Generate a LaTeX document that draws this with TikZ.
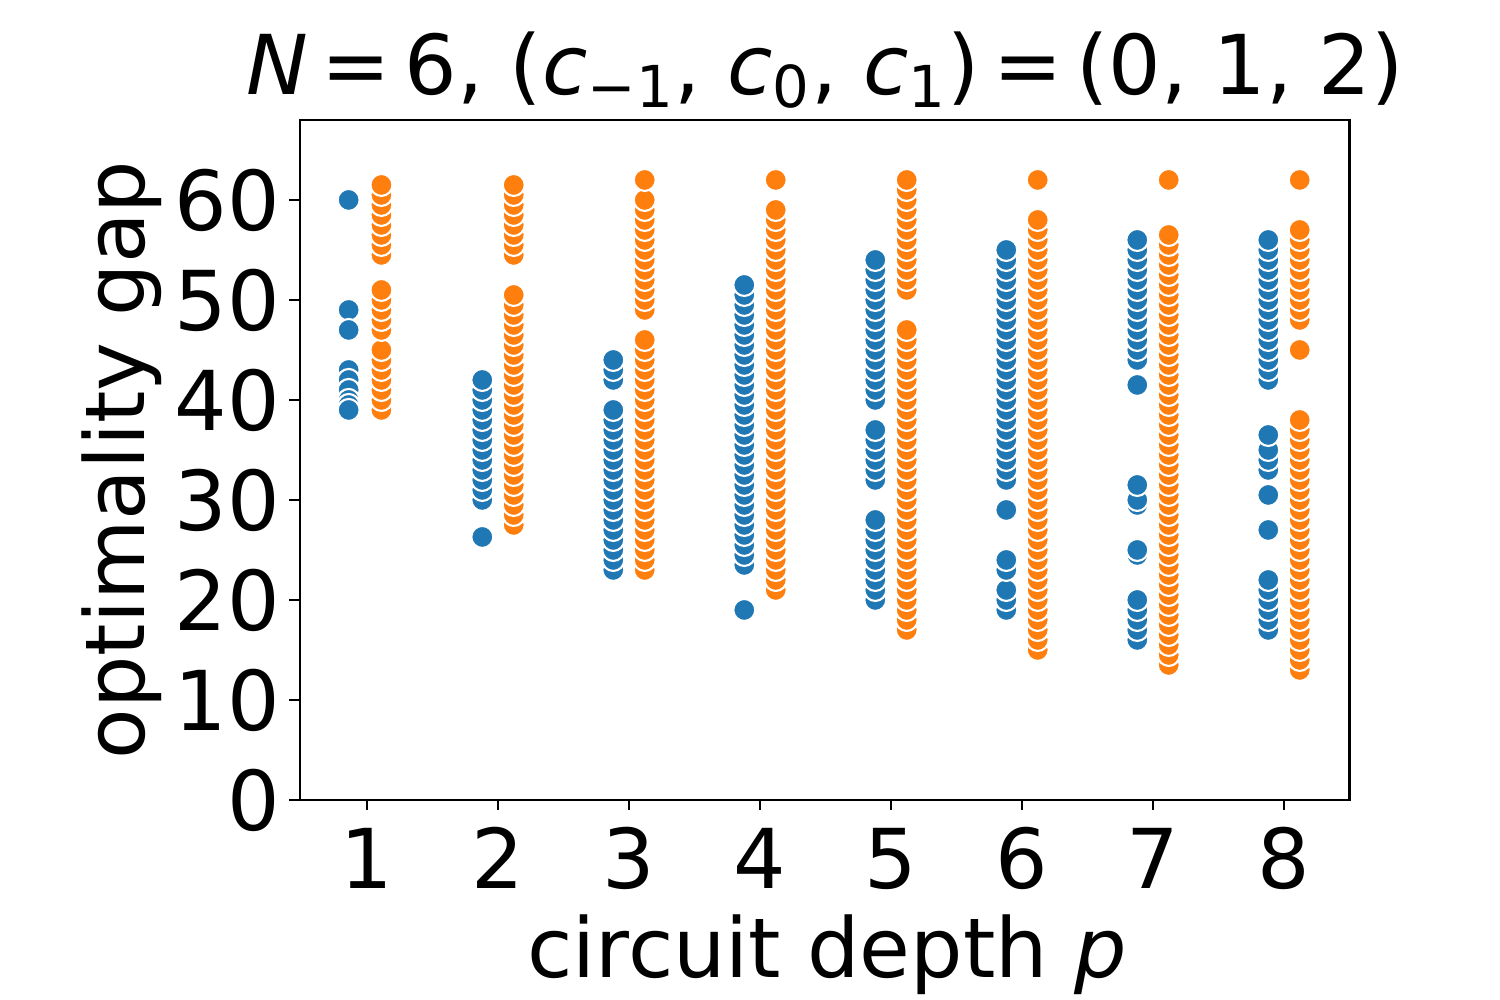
\documentclass[tikz,border=0pt]{standalone}
\usepackage{fontspec}
\setmainfont{DejaVu Sans}
\definecolor{tabblue}{HTML}{1F77B4}
\definecolor{taborange}{HTML}{FF7F0E}
\newcommand{\vi}[1]{\textit{#1}}
\tikzset{
  dotb/.style={fill=tabblue, draw=white, line width=0.6pt},
  doto/.style={fill=taborange, draw=white, line width=0.6pt},
  ticklab/.style={font=\fontsize{23.5}{28}\selectfont}
}
\begin{document}
\begin{tikzpicture}
\useasboundingbox (0,0) rectangle (15,10);
% --- title and axis labels ---
\node[ticklab] (title) at (8.25,9.3) {\vi{N}\,=\,6, (\vi{c}\textsubscript{−1}, \vi{c}\textsubscript{0}, \vi{c}\textsubscript{1})\,=\,(0, 1, 2)};
\node[ticklab, rotate=90] (ylab) at (1.22,5.4) {optimality gap};
\node[ticklab] (xlab) at (8.27,0.45) {circuit depth \vi{p}};
% --- data ---
\begin{scope}[shift={(2.36,2)}, x=1.31cm, y=0.1cm]
  \draw[line width=0.6pt] (0.4862,0) rectangle (8.5,68);
  \foreach \t in {0,10,...,60} {
    \draw[line width=0.6pt] (0.4862,\t) -- ++(-0.08,0);
    \node[ticklab, anchor=east] (yt\t) at (0.43,\t) {\t};
  }
  \foreach \p in {1,...,8} {
    \draw[line width=0.6pt] (\p,0) -- ++(0,-1);
    \node[ticklab, anchor=base] (xt\p) at (\p,-8.9) {\p};
  }
  % blue
  \foreach \y in {60,49,47,43,42,41,40,39.5,39} \fill[dotb] (0.86,\y) circle (0.11cm);
  \foreach \y in {26.3,30,31,...,42} \fill[dotb] (1.88,\y) circle (0.11cm);
  \foreach \y in {23,24,...,39,42,43,44} \fill[dotb] (2.88,\y) circle (0.11cm);
  \foreach \y in {19,23.5,24.5,...,51.5} \fill[dotb] (3.88,\y) circle (0.11cm);
  \foreach \y in {20,21,...,28,32,33,...,37,40,41,...,54} \fill[dotb] (4.88,\y) circle (0.11cm);
  \foreach \y in {19,20,21,23,24,29,32,33,...,55.5} \fill[dotb] (5.88,\y) circle (0.11cm);
  \foreach \y in {16,17,...,20,24.5,25,29.5,30,31.5,41.5,44,45,...,56} \fill[dotb] (6.88,\y) circle (0.11cm);
  \foreach \y in {17,18,...,22,27,30.5,33,34,35,36.5,42,43,...,56} \fill[dotb] (7.88,\y) circle (0.11cm);
  % orange
  \foreach \y in {39,40,...,45,47,48,...,51,54.5,55.5,...,62} \fill[doto] (1.11,\y) circle (0.11cm);
  \foreach \y in {27.5,28.5,...,50.5,54.5,55.5,...,62} \fill[doto] (2.12,\y) circle (0.11cm);
  \foreach \y in {23,24,...,46,49,50,...,60,62} \fill[doto] (3.12,\y) circle (0.11cm);
  \foreach \y in {21,22,...,59,62} \fill[doto] (4.12,\y) circle (0.11cm);
  \foreach \y in {17,18,...,47,51,52,...,62} \fill[doto] (5.12,\y) circle (0.11cm);
  \foreach \y in {15,16,...,58,62} \fill[doto] (6.12,\y) circle (0.11cm);
  \foreach \y in {13.5,14.5,...,56.5,62} \fill[doto] (7.12,\y) circle (0.11cm);
  \foreach \y in {13,14,...,38,45,48,49,...,57,62} \fill[doto] (8.12,\y) circle (0.11cm);
\end{scope}
\end{tikzpicture}
\end{document}
